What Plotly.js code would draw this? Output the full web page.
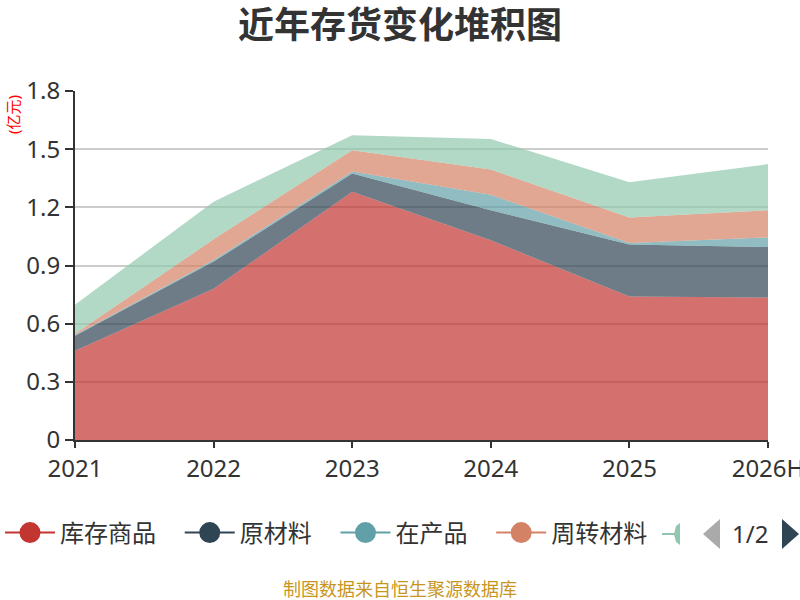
<!DOCTYPE html>
<html>
<head>
<meta charset="utf-8">
<script src="https://cdn.plot.ly/plotly-3.0.1.min.js"></script>
<style>
  html, body { margin: 0; padding: 0; background: #fff; }
  #chart { width: 800px; height: 600px; }
</style>
</head>
<body>
<div id="chart"></div>
<script>
const years = ['2021', '2022', '2023', '2024', '2025', '2026H'];
const seriesNames = ['库存商品', '原材料', '在产品', '周转材料', '发出商品'];
const seriesColors = ['#c23531', '#2f4554', '#61a0a8', '#d48265', '#91c7ae'];

// 亿元
const kucunShangpin = [0.46, 0.78, 1.28, 1.03, 0.74, 0.735];
const yuanCailiao   = [0.078, 0.14, 0.095, 0.155, 0.268, 0.26];
const zaiChanpin    = [0.004, 0.008, 0.01, 0.08, 0.008, 0.05];
const zhouzhuanCailiao = [0.006, 0.107, 0.11, 0.13, 0.131, 0.14];
const fachuShangpin = [0.15, 0.194, 0.077, 0.158, 0.182, 0.238];

const seriesValues = [kucunShangpin, yuanCailiao, zaiChanpin, zhouzhuanCailiao, fachuShangpin];

const FONT = 'Noto Sans, "Noto Sans CJK SC", sans-serif';
const PAD = '\u00a0\u00a0\u00a0';

function hexToRgba(hex, a) {
    const n = parseInt(hex.slice(1), 16);
    return `rgba(${(n >> 16) & 255},${(n >> 8) & 255},${n & 255},${a})`;
}

const traces = [];
seriesValues.forEach((vals, i) => {
    traces.push({
        type: 'scatter',
        mode: 'lines',
        name: seriesNames[i],
        x: years,
        y: vals,
        stackgroup: 'inv',
        fill: 'tonexty',
        fillcolor: hexToRgba(seriesColors[i], 0.7),
        line: { width: 0, color: seriesColors[i] },
        legendgroup: seriesNames[i],
        showlegend: false,
        hoverinfo: 'x+y+name'
    });
});

// legend entries (first page of the scrolling legend)
seriesNames.slice(0, 4).forEach((name, i) => {
    traces.push({
        type: 'scatter',
        mode: 'lines+markers',
        name: name + PAD,
        x: [null],
        y: [null],
        line: { color: seriesColors[i], width: 2 },
        marker: { color: seriesColors[i], size: 16, symbol: 'circle', line: { color: seriesColors[i], width: 5 } },
        legendgroup: name,
        showlegend: true
    });
});

// pixel -> paper helpers for the legend pager decorations
const M = { l: 75, r: 32, t: 91, b: 160 };
const PW = 800 - M.l - M.r, PH = 600 - M.t - M.b;
const px = v => (v - M.l) / PW;
const py = v => (600 - M.b - v) / PH;

function path(points) {
    return 'M' + points.map(p => px(p[0]) + ',' + py(p[1])).join(' L') + ' Z';
}

const layout = {
    width: 800,
    height: 600,
    margin: M,
    paper_bgcolor: '#fff',
    plot_bgcolor: '#fff',
    font: { family: FONT, color: '#333', size: 24 },
    title: {
        text: '<b>近年存货变化堆积图</b>',
        font: { family: FONT, size: 36, color: '#333' },
        x: 0.5,
        xanchor: 'center',
        xref: 'container',
        y: 0.958,
        yanchor: 'middle'
    },
    xaxis: {
        type: 'category',
        range: [0, years.length - 1],
        showgrid: false,
        showline: true,
        linecolor: '#333',
        linewidth: 2,
        ticks: 'outside',
        ticklen: 6,
        tickwidth: 2,
        tickcolor: '#333',
        tickfont: { size: 24, color: '#333' },
        fixedrange: true,
        zeroline: false,
        automargin: false
    },
    yaxis: {
        range: [0, 1.8],
        tickvals: [0, 0.3, 0.6, 0.9, 1.2, 1.5, 1.8],
        ticktext: ['0', '0.3', '0.6', '0.9', '1.2', '1.5', '1.8'],
        showgrid: true,
        gridcolor: '#ccc',
        gridwidth: 2,
        showline: true,
        linecolor: '#333',
        linewidth: 2,
        ticks: 'outside',
        ticklen: 8,
        tickwidth: 2,
        tickcolor: '#333',
        tickfont: { size: 24, color: '#333' },
        zeroline: false,
        fixedrange: true,
        automargin: false
    },
    showlegend: true,
    legend: {
        orientation: 'h',
        xref: 'container',
        yref: 'container',
        x: -0.012,
        xanchor: 'left',
        y: (600 - 533) / 600,
        yanchor: 'middle',
        font: { family: FONT, size: 24, color: '#333' },
        itemwidth: 50,
        tracegroupgap: 0,
        bgcolor: 'rgba(0,0,0,0)'
    },
    annotations: [
        {
            text: '(亿元)',
            xref: 'paper', yref: 'paper',
            x: px(13), y: py(115),
            xanchor: 'center', yanchor: 'middle',
            textangle: -90,
            showarrow: false,
            font: { family: FONT, size: 15, color: '#ff0000' }
        },
        {
            text: '1/2',
            xref: 'paper', yref: 'paper',
            x: px(750), y: py(533),
            xanchor: 'center', yanchor: 'middle',
            showarrow: false,
            font: { family: FONT, size: 24, color: '#333' }
        },
        {
            text: '制图数据来自恒生聚源数据库',
            xref: 'paper', yref: 'paper',
            x: px(400), y: py(589),
            xanchor: 'center', yanchor: 'middle',
            showarrow: false,
            font: { family: FONT, size: 18, color: '#c8961e' }
        }
    ],
    shapes: [
        // previous page (disabled)
        {
            type: 'path', xref: 'paper', yref: 'paper',
            path: path([[720, 519], [720, 549], [703, 534]]),
            fillcolor: '#aaa', line: { width: 0 }
        },
        // next page
        {
            type: 'path', xref: 'paper', yref: 'paper',
            path: path([[782, 519], [782, 549], [799, 534]]),
            fillcolor: '#2f4554', line: { width: 0 }
        },
        // clipped fifth legend symbol
        {
            type: 'line', xref: 'paper', yref: 'paper',
            x0: px(662), x1: px(678), y0: py(534), y1: py(534),
            line: { color: '#91c7ae', width: 2 }
        },
        {
            type: 'path', xref: 'paper', yref: 'paper',
            path: path([[680, 523], [676, 526], [674, 534], [676, 542], [680, 545]]),
            fillcolor: '#91c7ae', line: { width: 0 }
        }
    ]
};

Plotly.newPlot('chart', traces, layout, { displayModeBar: false, staticPlot: true });
</script>
</body>
</html>
